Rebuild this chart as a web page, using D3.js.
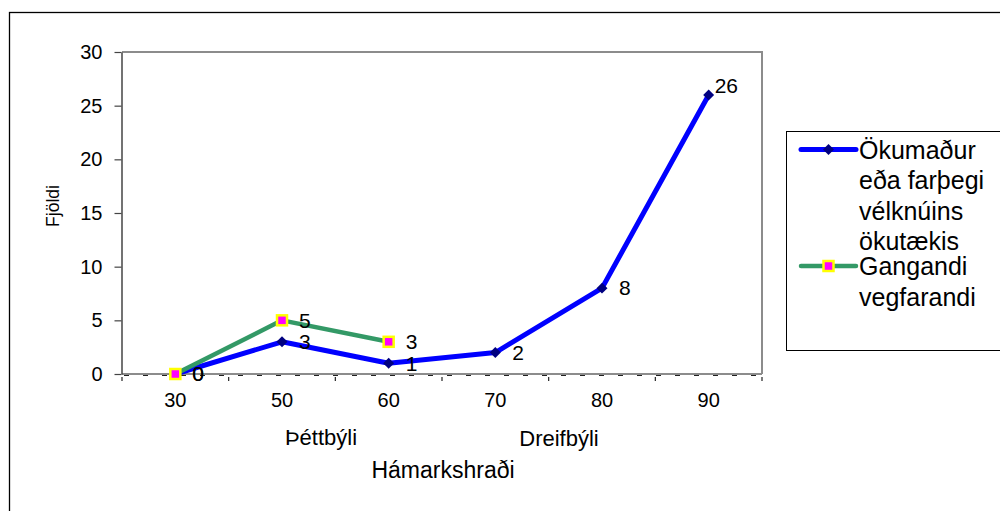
<!DOCTYPE html>
<html>
<head>
<meta charset="utf-8">
<script src="https://cdn.jsdelivr.net/npm/d3@7"></script>
<style>
  body { margin: 0; background: #fff; }
  svg { display: block; font-family: "Liberation Sans", Arial, sans-serif; }
</style>
</head>
<body>
<svg id="chart" width="1000" height="511"></svg>
<script>
// chart values
var categories = ["30", "50", "60", "70", "80", "90"];
var okumadur = [0, 3, 1, 2, 8, 26];
var gangandi = [0, 5, 3, null, null, null];
var yTicks = [0, 5, 10, 15, 20, 25, 30];
var legendOkumadur = ["Ökumaður", "eða farþegi", "vélknúins", "ökutækis"];
var legendGangandi = ["Gangandi", "vegfarandi"];

var svg = d3.select("#chart");

var x = d3.scaleBand().domain(categories).range([122, 762]);
var y = d3.scaleLinear().domain([0, 30]).range([374, 52]);

// outer chart border
svg.append("rect")
	.attr("x", 9.5).attr("y", 12.5)
	.attr("width", 1010).attr("height", 520)
	.attr("fill", "none").attr("stroke", "#000").attr("stroke-width", 1.3);

// plot area frame (grey)
svg.append("path")
	.attr("d", "M122," + y(30) + "H762V" + y(0))
	.attr("fill", "none").attr("stroke", "#8c8c8c").attr("stroke-width", 2);
svg.append("line")
	.attr("x1", 122).attr("x2", 762).attr("y1", y(0)).attr("y2", y(0))
	.attr("stroke", "#8c8c8c").attr("stroke-width", 2);
svg.append("line")
	.attr("x1", 124).attr("x2", 762).attr("y1", y(0) + 1.5).attr("y2", y(0) + 1.5)
	.attr("stroke", "#222").attr("stroke-width", 1)
	.attr("stroke-dasharray", "5,14");

// y axis
var yAxis = svg.append("g")
	.attr("transform", "translate(121.5,0)")
	.call(d3.axisLeft(y).tickValues(yTicks).tickSize(7).tickPadding(12).tickSizeOuter(0));
yAxis.select(".domain").attr("stroke", "#444").attr("stroke-width", 1.5);
yAxis.selectAll(".tick line").attr("stroke", "#444").attr("stroke-width", 1.2);
yAxis.selectAll("text").attr("font-size", 20).attr("font-family", "Liberation Sans, Arial").attr("fill", "#000");

// x axis labels
var xAxis = svg.append("g")
	.attr("transform", "translate(0," + y(0) + ")")
	.call(d3.axisBottom(x).tickSize(0).tickPadding(19));
xAxis.select(".domain").remove();
xAxis.selectAll("text").attr("font-size", 20).attr("font-family", "Liberation Sans, Arial").attr("fill", "#000");

// x tick marks at category boundaries
var bounds = categories.map(function(c) { return x(c); }).concat([x.range()[1]]);
svg.append("g").selectAll("line").data(bounds).join("line")
	.attr("x1", function(d) { return d; }).attr("x2", function(d) { return d; })
	.attr("y1", y(0) + 3).attr("y2", y(0) + 7)
	.attr("stroke", "#222").attr("stroke-width", 1.2);

// group labels
svg.append("text").attr("x", x("50") + x.bandwidth() / 2 + 39).attr("y", 445)
	.attr("text-anchor", "middle").attr("font-size", 22).text("Þéttbýli");
svg.append("text").attr("x", x("80") + x.bandwidth() / 2 - 43).attr("y", 446)
	.attr("text-anchor", "middle").attr("font-size", 22).text("Dreifbýli");
svg.append("text").attr("x", (x.range()[0] + x.range()[1]) / 2 + 1).attr("y", 478)
	.attr("text-anchor", "middle").attr("font-size", 23).text("Hámarkshraði");
svg.append("text").attr("transform", "translate(59,206) rotate(-90)")
	.attr("text-anchor", "middle").attr("font-size", 17.5).text("Fjöldi");

// series
var cx = function(i) { return x(categories[i]) + x.bandwidth() / 2; };
var line = d3.line()
	.defined(function(d) { return d != null; })
	.x(function(d, i) { return cx(i); })
	.y(function(d) { return y(d); });

var diamond = d3.symbol().type(d3.symbolSquare).size(60);

function drawSeries(values, color, width, marker) {
	svg.append("path").datum(values)
		.attr("d", line)
		.attr("fill", "none").attr("stroke", color).attr("stroke-width", width)
		.attr("stroke-linejoin", "round");
	values.forEach(function(v, i) {
		if (v == null) return;
		marker(svg, cx(i), y(v));
	});
}

function diamondMarker(g, px, py) {
	g.append("path").attr("d", diamond())
		.attr("transform", "translate(" + px + "," + py + ") rotate(45)")
		.attr("fill", "#000080");
}
function squareMarker(g, px, py) {
	g.append("rect").attr("x", px - 5).attr("y", py - 5).attr("width", 10).attr("height", 10)
		.attr("fill", "#ff00ff").attr("stroke", "#ffff00").attr("stroke-width", 2.5);
}

drawSeries(okumadur, "#0000ff", 5, diamondMarker);
drawSeries(gangandi, "#339966", 4.5, squareMarker);

// data labels
function drawLabels(values) {
	var maxV = d3.max(values);
	values.forEach(function(v, i) {
		if (v == null) return;
		var top = v === maxV && v > 20;
		svg.append("text")
			.attr("x", cx(i) + (top ? 6 : 17))
			.attr("y", y(v) + (top ? -9 : 0))
			.attr("dy", "0.35em")
			.attr("font-size", 21).text(v);
	});
}
drawLabels(okumadur);
drawLabels(gangandi);

// legend
var lg = svg.append("g");
lg.append("rect").attr("x", 786.5).attr("y", 131.5).attr("width", 240).attr("height", 219)
	.attr("fill", "#fff").attr("stroke", "#000").attr("stroke-width", 1);

function legendEntry(lines, ly, color, width, marker) {
	lg.append("line").attr("x1", 801).attr("x2", 856).attr("y1", ly).attr("y2", ly)
		.attr("stroke", color).attr("stroke-width", width).attr("stroke-linecap", "round");
	marker(lg, 828.5, ly);
	var t = lg.append("text").attr("x", 859).attr("y", ly + 9).attr("font-size", 25);
	lines.forEach(function(s, i) {
		t.append("tspan").attr("x", 859).attr("dy", i === 0 ? 0 : 30.5).text(s);
	});
}
legendEntry(legendOkumadur, 149.5, "#0000ff", 5, diamondMarker);
legendEntry(legendGangandi, 266, "#339966", 4.5, squareMarker);
</script>
</body>
</html>
